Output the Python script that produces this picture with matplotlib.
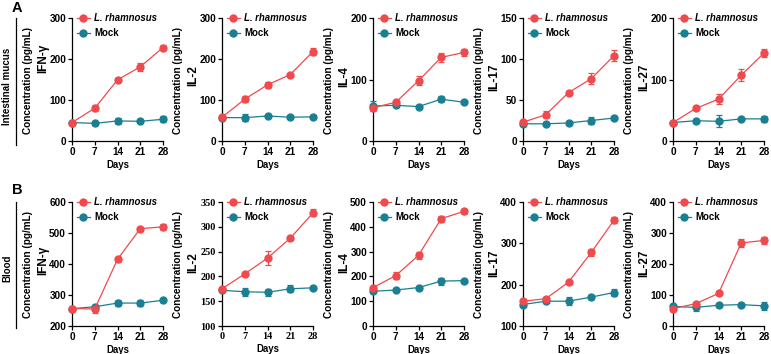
import matplotlib
matplotlib.use("Agg")
import matplotlib.pyplot as plt
from matplotlib.lines import Line2D

plt.rcParams['font.family'] = ['Liberation Sans', 'DejaVu Sans']
plt.rcParams['font.weight'] = 'bold'

days = [0, 7, 14, 21, 28]
cytokines = ["IFN-γ", "IL-2", "IL-4", "IL-17", "IL-27"]
groups = ["L. rhamnosus", "Mock"]
row_labels = ["Intestinal mucus", "Blood"]
panel_letters = ["A", "B"]

# Row A: intestinal mucus
a_ifn_lr = [45, 80, 149, 181, 228]
a_ifn_lr_err = [2, 8, 4, 10, 6]
a_ifn_mock = [45, 43, 49, 48, 53]
a_ifn_mock_err = [2, 2, 8, 2, 7]

a_il2_lr = [58, 102, 137, 162, 218]
a_il2_lr_err = [2, 8, 8, 3, 9]
a_il2_mock = [57, 57, 61, 58, 59]
a_il2_mock_err = [2, 8, 3, 2, 2]

a_il4_lr = [54, 63, 98, 136, 144]
a_il4_lr_err = [4, 3, 7, 7, 5]
a_il4_mock = [57, 58, 56, 68, 63]
a_il4_mock_err = [8, 3, 2, 5, 2]

a_il17_lr = [23, 32, 59, 76, 104]
a_il17_lr_err = [2, 4, 2, 7, 7]
a_il17_mock = [21, 21, 22, 25, 28]
a_il17_mock_err = [2, 2, 3, 4, 2]

a_il27_lr = [30, 53, 68, 107, 143]
a_il27_lr_err = [2, 2, 8, 10, 7]
a_il27_mock = [30, 33, 32, 36, 36]
a_il27_mock_err = [2, 2, 10, 2, 5]

# Row B: blood
b_ifn_lr = [256, 255, 415, 514, 520]
b_ifn_lr_err = [4, 12, 8, 4, 10]
b_ifn_mock = [256, 262, 274, 274, 283]
b_ifn_mock_err = [4, 5, 10, 10, 4]

b_il2_lr = [175, 205, 237, 277, 328]
b_il2_lr_err = [2, 3, 15, 3, 7]
b_il2_mock = [172, 169, 168, 175, 177]
b_il2_mock_err = [2, 8, 7, 7, 2]

b_il4_lr = [155, 203, 285, 433, 462]
b_il4_lr_err = [5, 15, 14, 12, 10]
b_il4_mock = [140, 145, 155, 181, 183]
b_il4_mock_err = [4, 4, 5, 14, 4]

b_il17_lr = [160, 166, 206, 278, 356]
b_il17_lr_err = [4, 3, 4, 9, 7]
b_il17_mock = [152, 160, 160, 170, 181]
b_il17_mock_err = [4, 4, 10, 4, 8]

b_il27_lr = [56, 72, 105, 268, 276]
b_il27_lr_err = [8, 4, 4, 12, 12]
b_il27_mock = [63, 60, 67, 69, 65]
b_il27_mock_err = [3, 12, 4, 4, 12]

rows = [
    [(a_ifn_lr, a_ifn_lr_err, a_ifn_mock, a_ifn_mock_err),
     (a_il2_lr, a_il2_lr_err, a_il2_mock, a_il2_mock_err),
     (a_il4_lr, a_il4_lr_err, a_il4_mock, a_il4_mock_err),
     (a_il17_lr, a_il17_lr_err, a_il17_mock, a_il17_mock_err),
     (a_il27_lr, a_il27_lr_err, a_il27_mock, a_il27_mock_err)],
    [(b_ifn_lr, b_ifn_lr_err, b_ifn_mock, b_ifn_mock_err),
     (b_il2_lr, b_il2_lr_err, b_il2_mock, b_il2_mock_err),
     (b_il4_lr, b_il4_lr_err, b_il4_mock, b_il4_mock_err),
     (b_il17_lr, b_il17_lr_err, b_il17_mock, b_il17_mock_err),
     (b_il27_lr, b_il27_lr_err, b_il27_mock, b_il27_mock_err)],
]

ylims = [
    [(0, 300, 100), (0, 300, 100), (0, 200, 100), (0, 150, 50), (0, 200, 100)],
    [(200, 600, 100), (100, 350, 50), (0, 500, 100), (100, 400, 100), (0, 400, 100)],
]

RED = "#EF4A4D"
TEAL = "#1A7F92"

W, H = 771, 354
fig = plt.figure(figsize=(W / 100, H / 100), dpi=100)

ax_lefts = [72, 222, 373, 523, 673]
ax_w = 91
row_tops = [18, 202]
row_bottoms = [141, 326]
gene_label_y = [[58, 76, 77, 77, 77], [260, 263, 263, 263, 263]]

MS = 5.0


def fx(px):
    return px / W


def fy(py):
    return 1 - py / H


for r in range(2):
    for c in range(5):
        left = ax_lefts[c]
        ax = fig.add_axes([fx(left), fy(row_bottoms[r]), fx(ax_w),
                           (row_bottoms[r] - row_tops[r]) / H])
        lr, lr_err, mock, mock_err = rows[r][c]
        for vals, errs, col, lab in [(mock, mock_err, TEAL, groups[1]),
                                     (lr, lr_err, RED, groups[0])]:
            ax.errorbar(days, vals, yerr=errs, color=col, marker='o',
                        markersize=MS, linewidth=0.9, elinewidth=0.9,
                        capsize=2.3, capthick=0.9, clip_on=False, zorder=3,
                        label=lab)
        lo, hi, step = ylims[r][c]
        ax.set_ylim(lo, hi)
        ax.set_yticks(list(range(lo, hi + 1, step)))
        ax.set_xlim(0, 28)
        ax.set_xticks(days)
        for s in ['top', 'right']:
            ax.spines[s].set_visible(False)
        for s in ['left', 'bottom']:
            ax.spines[s].set_linewidth(0.9)
        ax.tick_params(length=2.8, width=0.9, labelsize=7.2, pad=1.5)
        serif = (r == 1 and c == 1)
        for t in ax.get_xticklabels() + ax.get_yticklabels():
            t.set_fontweight('bold')
            if serif:
                t.set_family('Liberation Serif')
                t.set_fontsize(7.4)
        ax.set_xlabel("Days", fontsize=6.9, fontweight='bold', labelpad=2)
        handles = [Line2D([], [], color=RED, marker='o', markersize=MS, linewidth=0.9),
                   Line2D([], [], color=TEAL, marker='o', markersize=MS, linewidth=0.9)]
        leg = ax.legend(handles, groups, loc='upper left',
                        bbox_to_anchor=(0.0, 1.078), frameon=False,
                        fontsize=6.9, handlelength=1.35, handletextpad=0.45,
                        labelspacing=0.5, borderpad=0.2, borderaxespad=0.3)
        texts = leg.get_texts()
        texts[0].set_fontstyle('italic')
        for t in texts:
            t.set_fontweight('bold')
        # y labels
        mid = (row_tops[r] + row_bottoms[r]) / 2 + 1
        fig.text(fx(left - 44), fy(mid), "Concentration (pg/mL)", rotation=90,
                 ha='center', va='center', fontsize=7.2, fontweight='bold')
        fig.text(fx(left - 29), fy(gene_label_y[r][c]), cytokines[c], rotation=90,
                 ha='center', va='center', fontsize=8.5, fontweight='bold')

# Row labels and panel letters
row_label_y = [86, 268]
line_spans = [(18, 145), (202, 328)]
letter_y = [8, 190]
for r in range(2):
    fig.text(fx(7.5), fy(row_label_y[r]), row_labels[r], rotation=90,
             ha='center', va='center', fontsize=7, fontweight='bold')
    fig.add_artist(Line2D([fx(16), fx(16)], [fy(line_spans[r][0]), fy(line_spans[r][1])],
                          color='black', linewidth=0.9))
    fig.text(fx(17), fy(letter_y[r]), panel_letters[r], ha='center', va='center',
             fontsize=10.5, fontweight='bold')

fig.savefig("out.png", dpi=100)
